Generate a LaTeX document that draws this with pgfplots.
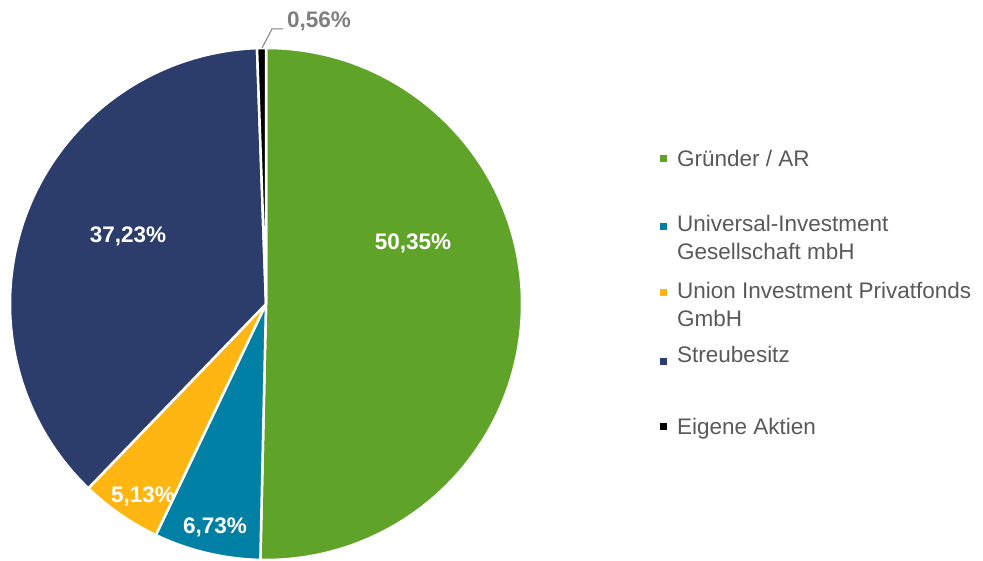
\documentclass[border=0pt]{standalone}
\usepackage{pgfplots}
\pgfplotsset{compat=1.18}
\usepackage{pgfplotstable}
\usepackage{fontspec}
\setmainfont{Liberation Sans}

\definecolor{cGreen}{HTML}{5FA328}
\definecolor{cTeal}{HTML}{0080A4}
\definecolor{cGold}{HTML}{FFB612}
\definecolor{cNavy}{HTML}{2C3D6C}
\definecolor{cText}{HTML}{595959}
\definecolor{cLabel}{HTML}{7F7F7F}

% shares in percent, clockwise from 12 o'clock
\pgfplotstableread{
name value color
Gruender 50.35 cGreen
Universal 6.73 cTeal
Union 5.13 cGold
Streubesitz 37.23 cNavy
Eigene 0.56 black
}\shares

\begin{document}
\begin{tikzpicture}
\begin{axis}[
  name=ax,
  x=1pt, y=1pt,
  xmin=0, xmax=983, ymin=0, ymax=560,
  hide axis, clip=false,
]
  \pgfplotstablegetrowsof{\shares}
  \pgfmathtruncatemacro\N{\pgfplotsretval-1}
  \def\cum{0}
  \pgfplotsforeachungrouped \i in {0,...,\N}{%
    \pgfplotstablegetelem{\i}{value}\of\shares \let\v\pgfplotsretval
    \pgfplotstablegetelem{\i}{color}\of\shares \let\c\pgfplotsretval
    \pgfmathsetmacro\a{90-3.6*\cum}
    \pgfmathsetmacro\b{90-3.6*(\cum+\v)}
    \edef\temp{\noexpand\fill[\c, draw=white, line width=2.5pt, line join=round]
      (axis cs:266,256) -- ++(\a:256pt) arc[start angle=\a, end angle=\b, radius=256pt] -- cycle;}
    \temp
    \pgfmathsetmacro\cum{\cum+\v}
  }

  % slice labels
  \begin{scope}[every node/.style={font=\fontsize{22.5}{26}\selectfont\bfseries, text=white}]
    \node at (axis cs:413,317) {50,35\%};
    \node at (axis cs:128,324) {37,23\%};
    \node at (axis cs:215,33) {6,73\%};
    \node at (axis cs:143,64) {5,13\%};
  \end{scope}
  \draw[cLabel, line width=1pt] (axis cs:262,512) -- (axis cs:272,531) -- (axis cs:283,531);
  \node[anchor=base west, inner sep=0pt, font=\fontsize{22.5}{26}\selectfont\bfseries, text=cLabel] at (axis cs:287,532) {0,56\%};

  % legend
  \begin{scope}[every node/.style={anchor=base west, inner sep=0pt, font=\fontsize{22.5}{26}\selectfont, text=cText}]
    \fill[cGreen] (axis cs:660,398) rectangle (axis cs:667,405);
    \node at (axis cs:677,393) {Gründer / AR};
    \fill[cTeal] (axis cs:660,330) rectangle (axis cs:667,337);
    \node at (axis cs:677,328) {Universal-Investment};
    \node at (axis cs:677,300) {Gesellschaft mbH};
    \fill[cGold] (axis cs:660,264) rectangle (axis cs:667,271);
    \node at (axis cs:677,261) {Union Investment Privatfonds};
    \node at (axis cs:677,233) {GmbH};
    \fill[cNavy] (axis cs:660,195) rectangle (axis cs:667,202);
    \node at (axis cs:677,197) {Streubesitz};
    \fill[black] (axis cs:660,130) rectangle (axis cs:667,137);
    \node at (axis cs:677,125) {Eigene Aktien};
  \end{scope}
\end{axis}
\pgfresetboundingbox
\path[use as bounding box] (ax.south west) rectangle (ax.north east);
\end{tikzpicture}
\end{document}
